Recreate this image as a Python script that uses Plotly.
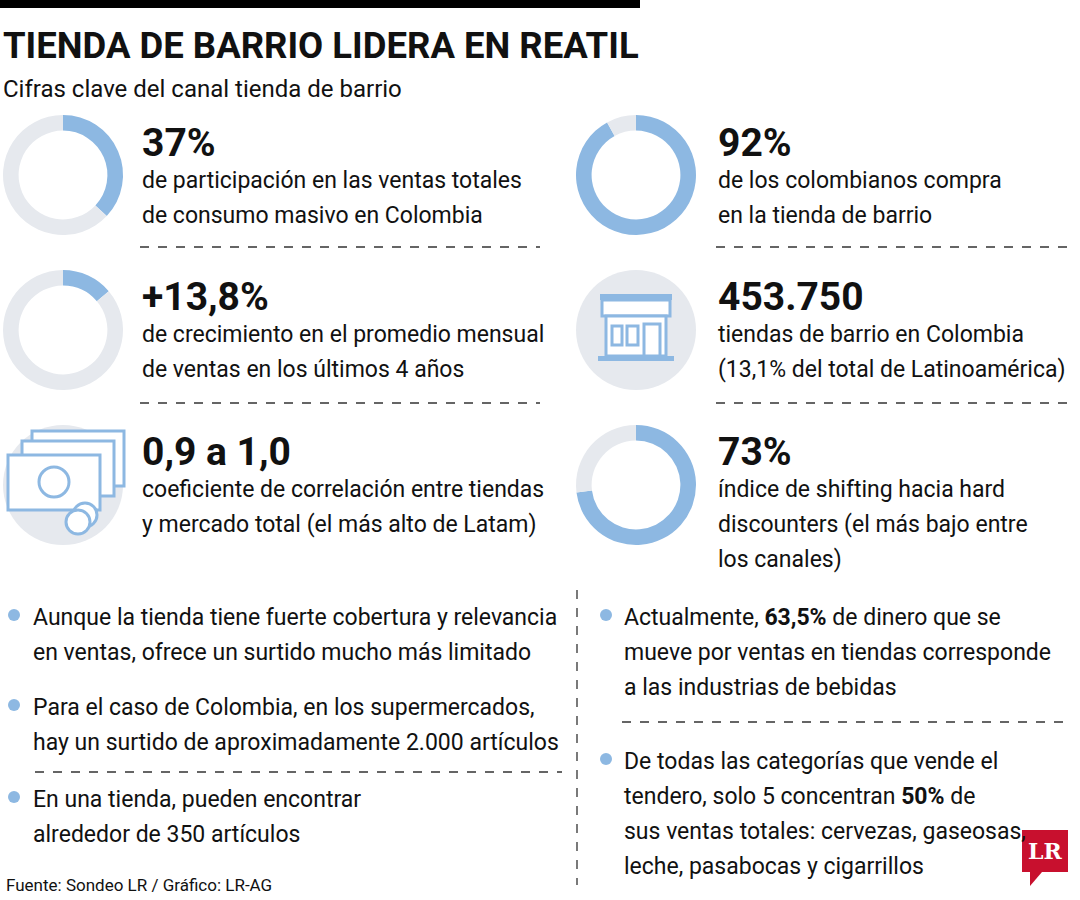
import plotly.graph_objects as go

W, H = 1080, 900
BLUE = "#8db8e2"; GRAY = "#e6e9ee"
FONT = "Roboto, sans-serif"

donut_vals = [37, 92, 13.8, 73]
donut_centers = [(63, 175), (636, 175), (63, 330), (636, 485)]
big_nums = ["37%", "92%", "+13,8%", "453.750", "0,9 a 1,0", "73%"]
descs = ["de participación en las ventas totales<br>de consumo masivo en Colombia",
         "de los colombianos compra<br>en la tienda de barrio",
         "de crecimiento en el promedio mensual<br>de ventas en los últimos 4 años",
         "tiendas de barrio en Colombia<br>(13,1% del total de Latinoamérica)",
         "coeficiente de correlación entre tiendas<br>y mercado total (el más alto de Latam)",
         "índice de shifting hacia hard<br>discounters (el más bajo entre<br>los canales)"]
stat_pos = [(140, 118), (716, 118), (140, 272), (716, 272), (140, 427), (716, 427)]
bullets_left = ["Aunque la tienda tiene fuerte cobertura y relevancia<br>en ventas, ofrece un surtido mucho más limitado",
                "Para el caso de Colombia, en los supermercados,<br>hay un surtido de aproximadamente 2.000 artículos",
                "En una tienda, pueden encontrar<br>alrededor de 350 artículos"]
bullets_left_y = [600, 690, 782]
bullets_right = ["Actualmente, <b>63,5%</b> de dinero que se<br>mueve por ventas en tiendas corresponde<br>a las industrias de bebidas",
                 "De todas las categorías que vende el<br>tendero, solo 5 concentran <b>50%</b> de<br>sus ventas totales: cervezas, gaseosas,<br>leche, pasabocas y cigarrillos"]
bullets_right_y = [600, 744]

fig = go.Figure()
R = 60
for v, (cx, cy) in zip(donut_vals, donut_centers):
    fig.add_trace(go.Pie(values=[v, 100 - v], marker=dict(colors=[BLUE, GRAY]), hole=0.74,
                         sort=False, direction="clockwise", rotation=0, textinfo="none",
                         hoverinfo="skip", showlegend=False,
                         domain=dict(x=[(cx - R) / W, (cx + R) / W], y=[1 - (cy + R) / H, 1 - (cy - R) / H])))

shapes = []
def rect(x0, y0, x1, y1, **kw):
    d = dict(type="rect", xref="x", yref="y", x0=x0, y0=y0, x1=x1, y1=y1)
    d.update(kw); shapes.append(d)
def line(x0, y0, x1, y1, **kw):
    d = dict(type="line", xref="x", yref="y", x0=x0, y0=y0, x1=x1, y1=y1)
    d.update(kw); shapes.append(d)
def circ(cx, cy, r, **kw):
    d = dict(type="circle", xref="x", yref="y", x0=cx - r, y0=cy - r, x1=cx + r, y1=cy + r)
    d.update(kw); shapes.append(d)

rect(0, 0, 640, 8, fillcolor="black", line_width=0)
dash = dict(color="#333", width=1.3, dash="dash")
for y in (247, 403):
    line(140, y, 540, y, line=dash); line(716, y, 1075, y, line=dash)
line(35, 772, 562, 772, line=dash)
line(622, 722, 1065, 722, line=dash)
line(577, 590, 577, 885, line=dash)

# store icon
circ(636, 330, 60, fillcolor=GRAY, line_width=0)
rect(600, 294, 672, 300, fillcolor=BLUE, line_width=0)
rect(602, 300, 670, 316, fillcolor="white", line=dict(color=BLUE, width=3))
rect(606, 316, 666, 356, fillcolor="white", line=dict(color=BLUE, width=3))
rect(612, 326, 622, 345, fillcolor="white", line=dict(color=BLUE, width=3))
rect(627, 326, 638, 345, fillcolor="white", line=dict(color=BLUE, width=3))
rect(644, 324, 660, 356, fillcolor="white", line=dict(color=BLUE, width=3))
rect(598, 356, 674, 361, fillcolor=BLUE, line_width=0)
# money icon
circ(63, 485, 60, fillcolor=GRAY, line_width=0)
for dx, dy in ((24, -24), (14, -14), (0, 0)):
    rect(8 + dx, 455 + dy, 100 + dx, 510 + dy, fillcolor="white", line=dict(color=BLUE, width=3))
circ(54, 482, 15, fillcolor="white", line=dict(color=BLUE, width=3))
circ(85, 515, 12, fillcolor="white", line=dict(color=BLUE, width=3))
circ(78, 522, 12, fillcolor="white", line=dict(color=BLUE, width=3))
# bullets
for y in bullets_left_y:
    circ(14, y + 15, 6, fillcolor=BLUE, line_width=0)
for y in bullets_right_y:
    circ(606, y + 15, 6, fillcolor=BLUE, line_width=0)
# LR logo
rect(1022, 830, 1068, 872, fillcolor="#c8102e", line_width=0)
shapes.append(dict(type="path", xref="x", yref="y", path="M1030,872 L1042,872 L1030,886 Z", fillcolor="#c8102e", line_width=0))

ann = []
def text(x, y, t, size, color="#111", bold=False, font=FONT, step=35):
    for i, ln in enumerate(t.split("<br>")):
        ann.append(dict(x=x, y=y + i * step, xref="x", yref="y", text=(f"<b>{ln}</b>" if bold else ln),
                        showarrow=False, xanchor="left", yanchor="top", align="left",
                        font=dict(size=size, color=color, family=font)))

text(1, 22, "TIENDA DE BARRIO LIDERA EN REATIL", 36.5, bold=True)
text(1, 73, "Cifras clave del canal tienda de barrio", 24)
for (x, y), n, d in zip(stat_pos, big_nums, descs):
    text(x, y, n, 39, bold=True)
    text(x, y + 47, d, 23)
for t, y in zip(bullets_left, bullets_left_y):
    text(31, y + 2, t, 23)
for t, y in zip(bullets_right, bullets_right_y):
    text(622, y + 2, t, 23)
text(4, 873, "Fuente: Sondeo LR / Gráfico: LR-AG", 17)
ann.append(dict(x=1045, y=851, xref="x", yref="y", text="<b>LR</b>", showarrow=False,
                font=dict(size=22, color="white", family="DejaVu Serif, serif")))

fig.update_layout(width=W, height=H, margin=dict(l=0, r=0, t=0, b=0), plot_bgcolor="white",
                  paper_bgcolor="white", shapes=shapes, annotations=ann,
                  xaxis=dict(range=[0, W], visible=False, fixedrange=True),
                  yaxis=dict(range=[H, 0], visible=False, fixedrange=True))
fig.write_html("out.html", post_script="document.body.style.margin='0';",
               config={"displayModeBar": False})
